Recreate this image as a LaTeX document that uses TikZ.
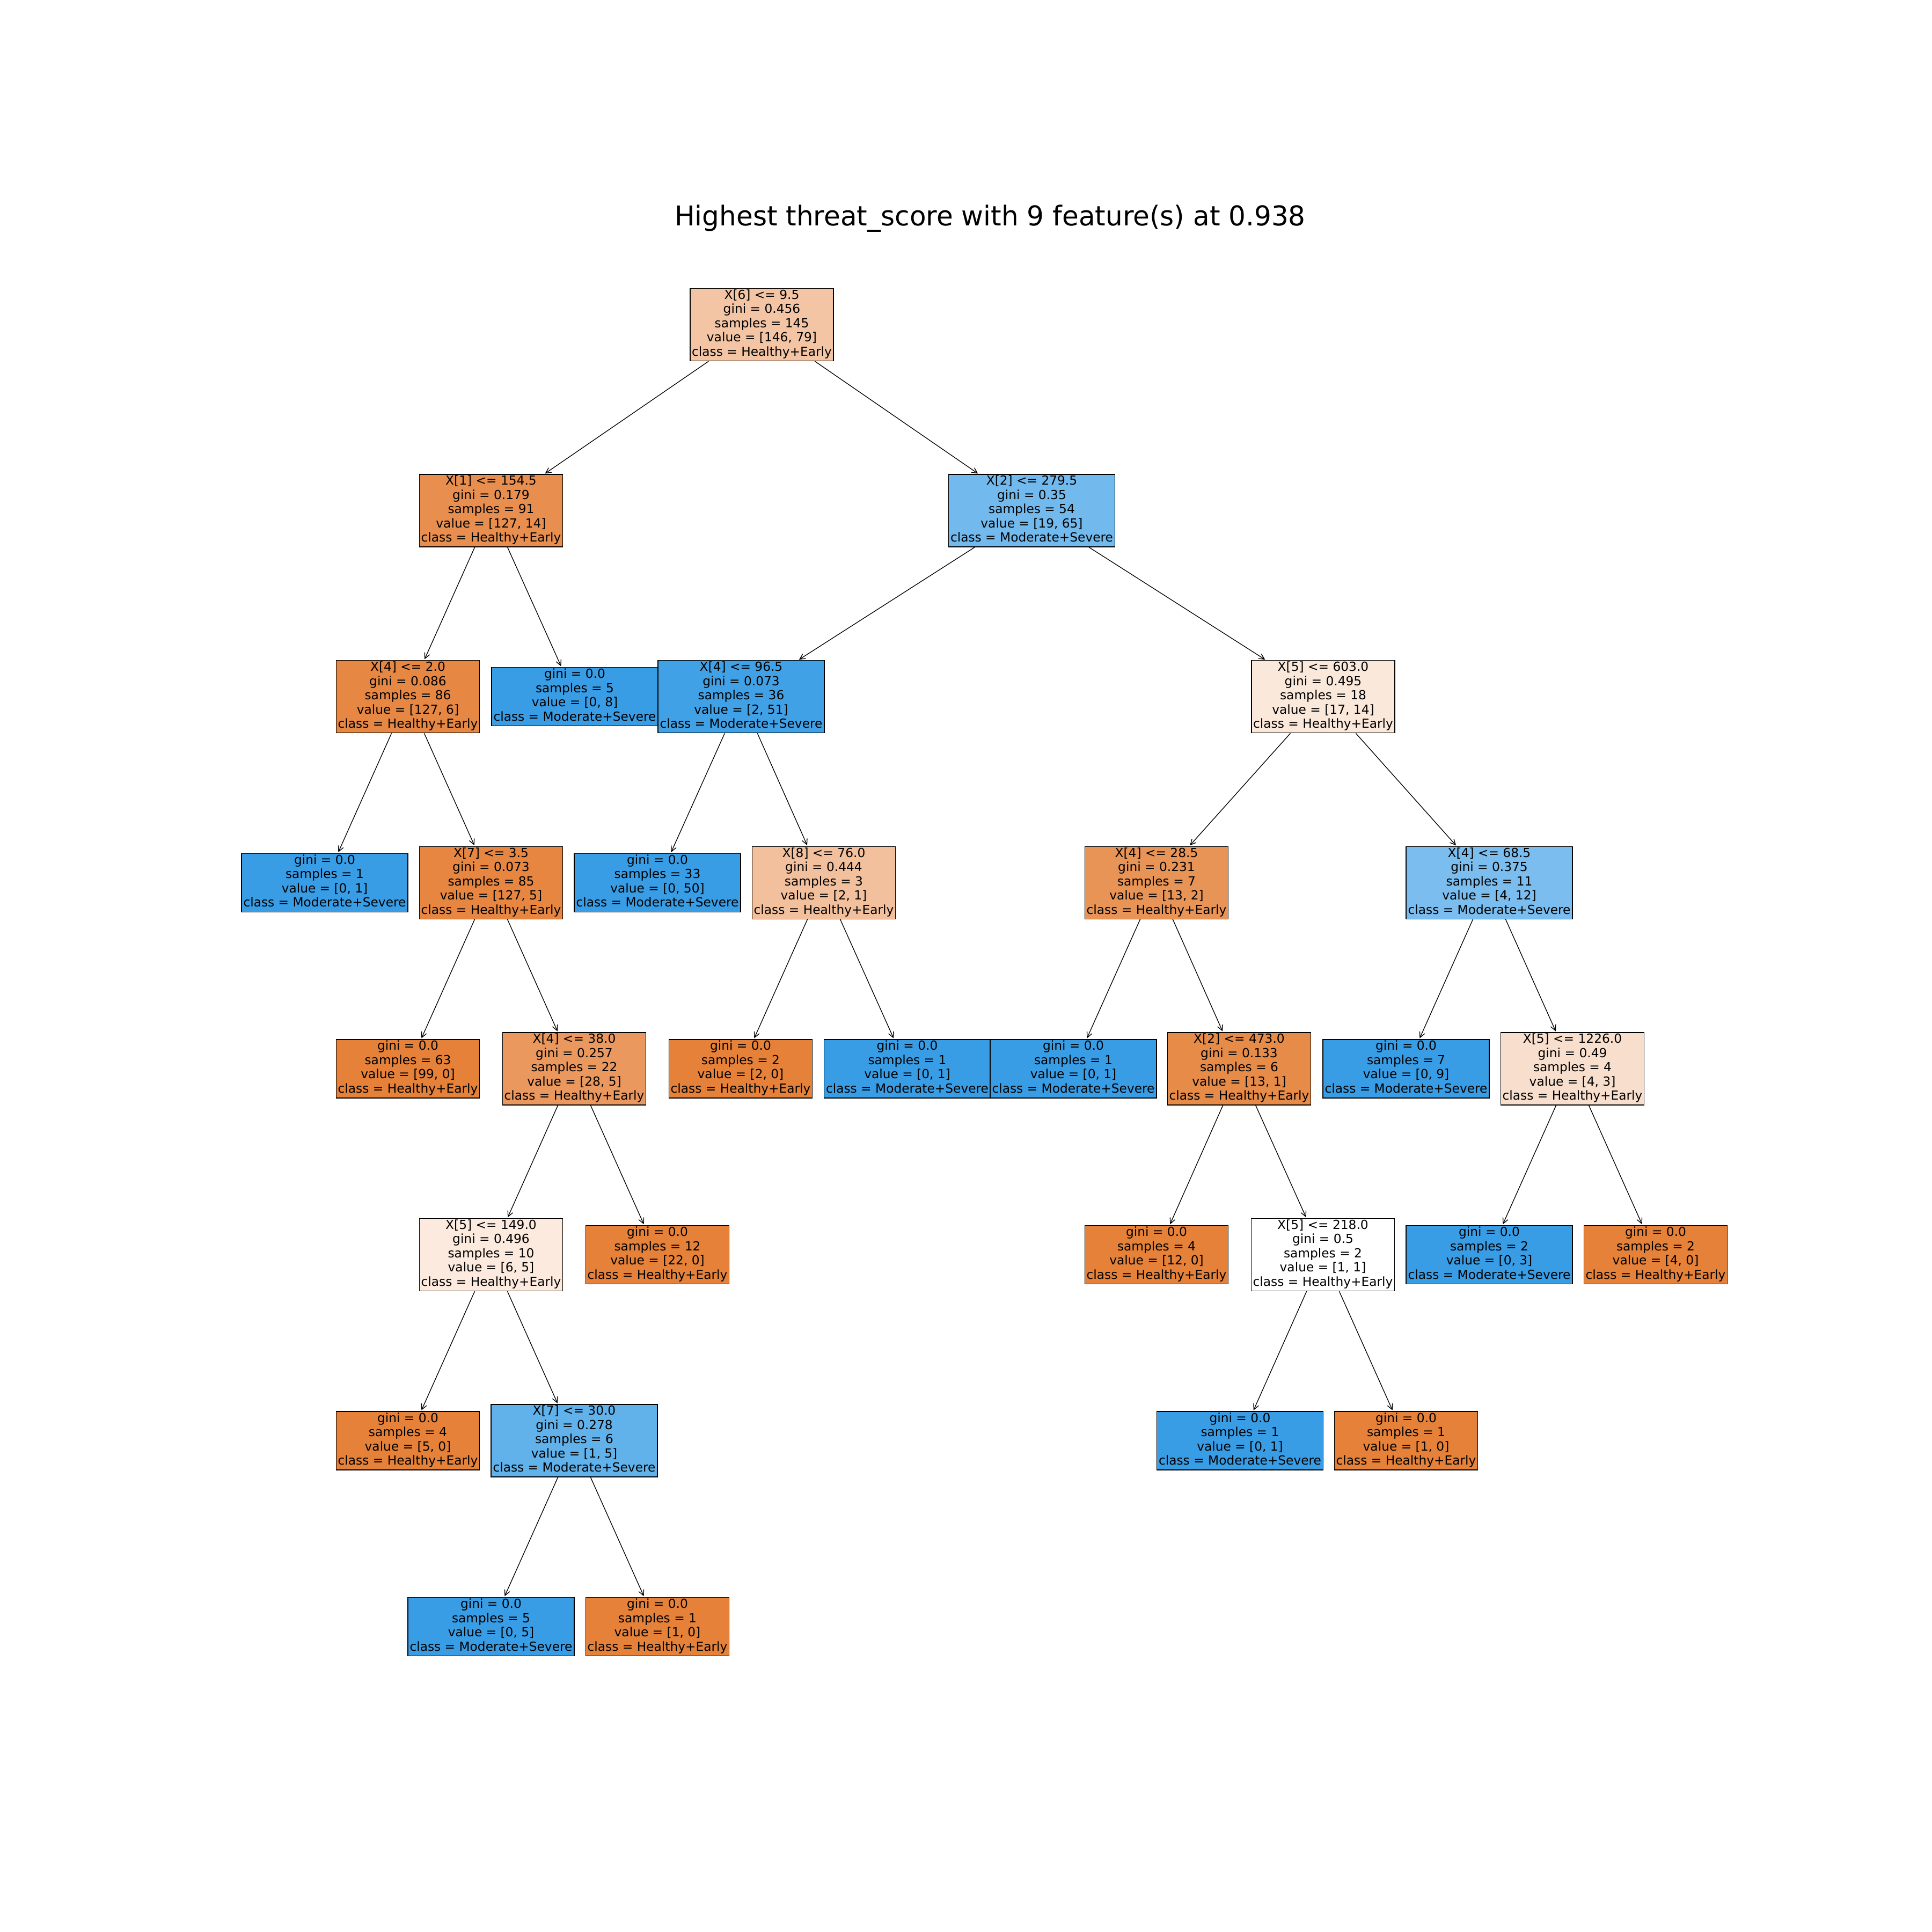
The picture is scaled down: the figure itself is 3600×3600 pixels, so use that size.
\documentclass[tikz,border=0pt]{standalone}
\usepackage{fontspec}
\setmainfont{DejaVu Sans}
\usepackage{graphicx}
\usetikzlibrary{arrows.meta}

\definecolor{hcol}{RGB}{229,129,57}
\definecolor{mcol}{RGB}{57,157,229}

% one tree box: name, centre x, centre y, width, height, fill, lines
\newcommand\treebox[7]{%
  \pgfmathsetmacro\bw{#4*0.01}%
  \pgfmathsetmacro\bh{#5*0.01}%
  \pgfmathsetmacro\tw{#4*0.00976}%
  \node[tbox, fill=#6, minimum width=\bw cm, minimum height=\bh cm] (#1) at (#2,#3)
    {\resizebox{\tw cm}{\height}{\begin{tabular}{@{}c@{}}#7\end{tabular}}};%
}
\newcommand\HE{class = Healthy+Early}
\newcommand\MS{class = Moderate+Severe}

\begin{document}
\begin{tikzpicture}[x=0.01cm, y=-0.01cm,
  tbox/.style={rectangle, draw=black, line width=0.38pt, inner sep=0pt,
    font=\fontsize{6.63pt}{7.54pt}\selectfont},
  edge/.style={draw=black, line width=0.38pt,
    -{Straight Barb[length=2.9pt, width=2.9pt, line width=0.38pt]}, shorten >=0.5pt}]
\useasboundingbox (0,0) rectangle (3600,3600);

\node[anchor=base, inner sep=0pt] (title) at (1845,420)
  {\fontsize{14.45pt}{17pt}\selectfont\resizebox{11.75cm}{\height}{Highest threat\_score with 9 feature(s) at 0.938}};

% level 0
\treebox{root}{1419.5}{605}{267}{135}{hcol!46}{X[6] <= 9.5\\gini = 0.456\\samples = 145\\value = [146, 79]\\\HE}
% level 1
\treebox{a1}{915}{951.6}{267}{135}{hcol!89}{X[1] <= 154.5\\gini = 0.179\\samples = 91\\value = [127, 14]\\\HE}
\treebox{a2}{1922.5}{951.6}{310}{135}{mcol!71}{X[2] <= 279.5\\gini = 0.35\\samples = 54\\value = [19, 65]\\\MS}
% level 2
\treebox{b1}{760}{1298.2}{267}{135}{hcol!95}{X[4] <= 2.0\\gini = 0.086\\samples = 86\\value = [127, 6]\\\HE}
\treebox{b2}{1071}{1298.2}{310}{109}{mcol}{gini = 0.0\\samples = 5\\value = [0, 8]\\\MS}
\treebox{b3}{1381}{1298.2}{310}{135}{mcol!96}{X[4] <= 96.5\\gini = 0.073\\samples = 36\\value = [2, 51]\\\MS}
\treebox{b4}{2465.5}{1298.2}{267}{135}{hcol!18}{X[5] <= 603.0\\gini = 0.495\\samples = 18\\value = [17, 14]\\\HE}
% level 3
\treebox{c1}{605}{1644.8}{310}{109}{mcol}{gini = 0.0\\samples = 1\\value = [0, 1]\\\MS}
\treebox{c2}{915}{1644.8}{267}{135}{hcol!96}{X[7] <= 3.5\\gini = 0.073\\samples = 85\\value = [127, 5]\\\HE}
\treebox{c3}{1225}{1644.8}{310}{109}{mcol}{gini = 0.0\\samples = 33\\value = [0, 50]\\\MS}
\treebox{c4}{1535}{1644.8}{267}{135}{hcol!50}{X[8] <= 76.0\\gini = 0.444\\samples = 3\\value = [2, 1]\\\HE}
\treebox{c5}{2155}{1644.8}{267}{135}{hcol!85}{X[4] <= 28.5\\gini = 0.231\\samples = 7\\value = [13, 2]\\\HE}
\treebox{c6}{2775}{1644.8}{310}{135}{mcol!67}{X[4] <= 68.5\\gini = 0.375\\samples = 11\\value = [4, 12]\\\MS}
% level 4
\treebox{d1}{760}{1991.4}{267}{109}{hcol}{gini = 0.0\\samples = 63\\value = [99, 0]\\\HE}
\treebox{d2}{1070}{1991.4}{267}{135}{hcol!82}{X[4] <= 38.0\\gini = 0.257\\samples = 22\\value = [28, 5]\\\HE}
\treebox{d3}{1380}{1991.4}{267}{109}{hcol}{gini = 0.0\\samples = 2\\value = [2, 0]\\\HE}
\treebox{d4}{1690.5}{1991.4}{310}{109}{mcol}{gini = 0.0\\samples = 1\\value = [0, 1]\\\MS}
\treebox{d5}{2000}{1991.4}{310}{109}{mcol}{gini = 0.0\\samples = 1\\value = [0, 1]\\\MS}
\treebox{d6}{2309}{1991.4}{267}{135}{hcol!92}{X[2] <= 473.0\\gini = 0.133\\samples = 6\\value = [13, 1]\\\HE}
\treebox{d7}{2620}{1991.4}{310}{109}{mcol}{gini = 0.0\\samples = 7\\value = [0, 9]\\\MS}
\treebox{d8}{2930}{1991.4}{267}{135}{hcol!25}{X[5] <= 1226.0\\gini = 0.49\\samples = 4\\value = [4, 3]\\\HE}
% level 5
\treebox{e1}{915}{2338}{267}{135}{hcol!17}{X[5] <= 149.0\\gini = 0.496\\samples = 10\\value = [6, 5]\\\HE}
\treebox{e2}{1225}{2338}{267}{109}{hcol}{gini = 0.0\\samples = 12\\value = [22, 0]\\\HE}
\treebox{e3}{2155}{2338}{267}{109}{hcol}{gini = 0.0\\samples = 4\\value = [12, 0]\\\HE}
\treebox{e4}{2465}{2338}{267}{135}{white}{X[5] <= 218.0\\gini = 0.5\\samples = 2\\value = [1, 1]\\\HE}
\treebox{e5}{2775}{2338}{310}{109}{mcol}{gini = 0.0\\samples = 2\\value = [0, 3]\\\MS}
\treebox{e6}{3085}{2338}{267}{109}{hcol}{gini = 0.0\\samples = 2\\value = [4, 0]\\\HE}
% level 6
\treebox{f1}{760}{2684.6}{267}{109}{hcol}{gini = 0.0\\samples = 4\\value = [5, 0]\\\HE}
\treebox{f2}{1070}{2684.6}{310}{135}{mcol!80}{X[7] <= 30.0\\gini = 0.278\\samples = 6\\value = [1, 5]\\\MS}
\treebox{f3}{2310.5}{2684.6}{310}{109}{mcol}{gini = 0.0\\samples = 1\\value = [0, 1]\\\MS}
\treebox{f4}{2620}{2684.6}{267}{109}{hcol}{gini = 0.0\\samples = 1\\value = [1, 0]\\\HE}
% level 7
\treebox{g1}{915}{3031}{310}{109}{mcol}{gini = 0.0\\samples = 5\\value = [0, 5]\\\MS}
\treebox{g2}{1225}{3031}{267}{109}{hcol}{gini = 0.0\\samples = 1\\value = [1, 0]\\\HE}

% splits
\foreach \p/\c in {root/a1, root/a2, a1/b1, a1/b2, a2/b3, a2/b4,
  b1/c1, b1/c2, b3/c3, b3/c4, b4/c5, b4/c6,
  c2/d1, c2/d2, c4/d3, c4/d4, c5/d5, c5/d6, c6/d7, c6/d8,
  d2/e1, d2/e2, d6/e3, d6/e4, d8/e5, d8/e6,
  e1/f1, e1/f2, e4/f3, e4/f4, f2/g1, f2/g2}
  \draw[edge] (\p) -- (\c);
\end{tikzpicture}
\end{document}
